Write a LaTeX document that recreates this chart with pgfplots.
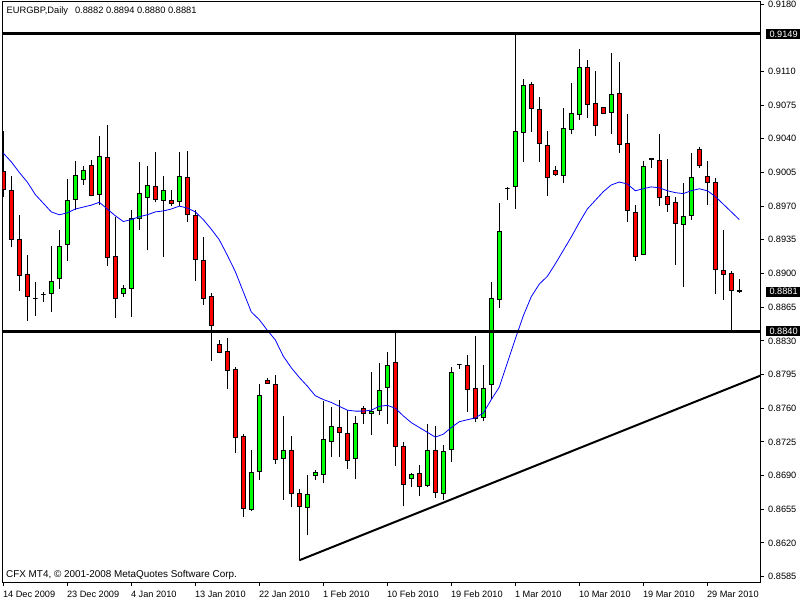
\documentclass[border=0pt]{standalone}
\usepackage{fontspec}
\setmainfont{Liberation Sans}
\usepackage{pgfplots}
\pgfplotsset{compat=1.18}
\usepackage{pgfplotstable}
\definecolor{cup}{RGB}{0,255,0}
\definecolor{cdown}{RGB}{255,0,0}
\definecolor{mablue}{RGB}{0,0,255}

\pgfplotstableread{
i o h l c
0 0.9006 0.9048 0.8979 0.8987
1 0.8986 0.9001 0.8927 0.8935
2 0.8935 0.8961 0.8882 0.8898
3 0.8899 0.8919 0.8851 0.8876
4 0.8874 0.8891 0.8856 0.8874
5 0.8878 0.8881 0.8870 0.8878
6 0.8879 0.8929 0.8860 0.8892
7 0.8895 0.8945 0.8884 0.8928
8 0.8930 0.8998 0.8913 0.8976
9 0.8977 0.9017 0.8966 0.9002
10 0.8998 0.9012 0.8992 0.9007
11 0.9012 0.9018 0.8980 0.8981
12 0.8982 0.9043 0.8971 0.9022
13 0.9021 0.9054 0.8908 0.8917
14 0.8918 0.8959 0.8854 0.8874
15 0.8879 0.8888 0.8876 0.8884
16 0.8884 0.8966 0.8855 0.8957
17 0.8957 0.9016 0.8945 0.8983
18 0.8979 0.9012 0.8924 0.8991
19 0.8990 0.9026 0.8974 0.8977
20 0.8976 0.9001 0.8917 0.8986
21 0.8976 0.8987 0.8970 0.8973
22 0.8975 0.9026 0.8970 0.9001
23 0.9000 0.9027 0.8954 0.8961
24 0.8960 0.8966 0.8892 0.8915
25 0.8914 0.8938 0.8867 0.8874
26 0.8876 0.8880 0.8809 0.8846
27 0.8826 0.8831 0.8817 0.8818
28 0.8819 0.8833 0.8780 0.8799
29 0.8800 0.8803 0.8713 0.8730
30 0.8731 0.8733 0.8647 0.8656
31 0.8655 0.8717 0.8653 0.8693
32 0.8694 0.8785 0.8685 0.8773
33 0.8789 0.8791 0.8785 0.8786
34 0.8785 0.8795 0.8702 0.8707
35 0.8708 0.8752 0.8665 0.8716
36 0.8716 0.8731 0.8657 0.8671
37 0.8671 0.8676 0.8602 0.8658
38 0.8657 0.8691 0.8628 0.8670
39 0.8690 0.8696 0.8685 0.8693
40 0.8691 0.8768 0.8682 0.8727
41 0.8725 0.8761 0.8709 0.8741
42 0.8740 0.8769 0.8709 0.8735
43 0.8734 0.8758 0.8697 0.8706
44 0.8708 0.8752 0.8686 0.8744
45 0.8760 0.8762 0.8744 0.8755
46 0.8754 0.8798 0.8732 0.8757
47 0.8758 0.8807 0.8753 0.8778
48 0.8782 0.8818 0.8744 0.8804
49 0.8807 0.8839 0.8700 0.8720
50 0.8720 0.8725 0.8658 0.8681
51 0.8687 0.8693 0.8678 0.8691
52 0.8692 0.8701 0.8669 0.8679
53 0.8680 0.8744 0.8678 0.8716
54 0.8716 0.8742 0.8667 0.8672
55 0.8671 0.8722 0.8665 0.8715
56 0.8717 0.8803 0.8704 0.8797
57 0.8805 0.8806 0.8801 0.8805
58 0.8804 0.8815 0.8756 0.8779
59 0.8780 0.8835 0.8746 0.8749
60 0.8750 0.8805 0.8747 0.8780
61 0.8785 0.8891 0.8770 0.8874
62 0.8873 0.8973 0.8864 0.8944
63 0.8988 0.8990 0.8976 0.8988
64 0.8990 0.9149 0.8967 0.9048
65 0.9046 0.9102 0.9016 0.9095
66 0.9096 0.9099 0.9047 0.9071
67 0.9070 0.9083 0.9016 0.9035
68 0.9033 0.9048 0.8980 0.9000
69 0.9007 0.9012 0.9001 0.9003
70 0.9002 0.9072 0.8994 0.9051
71 0.9050 0.9098 0.9045 0.9066
72 0.9065 0.9133 0.9059 0.9114
73 0.9114 0.9122 0.9062 0.9076
74 0.9077 0.9110 0.9043 0.9054
75 0.9072 0.9073 0.9066 0.9066
76 0.9067 0.9129 0.9045 0.9086
77 0.9087 0.9120 0.9025 0.9034
78 0.9035 0.9066 0.8953 0.8965
79 0.8963 0.8971 0.8913 0.8918
80 0.8920 0.9017 0.8919 0.9011
81 0.9019 0.9020 0.9010 0.9018
82 0.9017 0.9045 0.8970 0.8979
83 0.8980 0.9019 0.8964 0.8972
84 0.8974 0.8979 0.8909 0.8952
85 0.8951 0.8994 0.8886 0.8959
86 0.8960 0.9025 0.8956 0.9000
87 0.9029 0.9031 0.9010 0.9012
88 0.9001 0.9017 0.8971 0.8995
89 0.8995 0.8999 0.8879 0.8904
90 0.8903 0.8945 0.8872 0.8899
91 0.8900 0.8903 0.8840 0.8882
92 0.8882 0.8894 0.8880 0.8881
}\ohlc

\pgfplotstableread{
i m
0 0.9025
1 0.9016
2 0.9005
3 0.8995
4 0.8982
5 0.8973
6 0.8964
7 0.8961
8 0.8963
9 0.8967
10 0.8969
11 0.8971
12 0.8974
13 0.8967
14 0.8960
15 0.8954
16 0.8956
17 0.8959
18 0.8961
19 0.8964
20 0.8965
21 0.8967
22 0.8970
23 0.8968
24 0.8964
25 0.8956
26 0.8946
27 0.8935
28 0.8919
29 0.8902
30 0.8881
31 0.8860
32 0.8852
33 0.8841
34 0.8831
35 0.8814
36 0.8802
37 0.8792
38 0.8783
39 0.8773
40 0.8769
41 0.8766
42 0.8762
43 0.8758
44 0.8757
45 0.8757
46 0.8758
47 0.8762
48 0.8763
49 0.8760
50 0.8752
51 0.8745
52 0.8740
53 0.8735
54 0.8730
55 0.8733
56 0.8740
57 0.8746
58 0.8748
59 0.8750
60 0.8755
61 0.8769
62 0.8782
63 0.8807
64 0.8832
65 0.8856
66 0.8876
67 0.8889
68 0.8897
69 0.8910
70 0.8924
71 0.8938
72 0.8953
73 0.8967
74 0.8976
75 0.8985
76 0.8992
77 0.8995
78 0.8993
79 0.8986
80 0.8988
81 0.8990
82 0.8989
83 0.8986
84 0.8984
85 0.8983
86 0.8986
87 0.8988
88 0.8986
89 0.8980
90 0.8972
91 0.8964
92 0.8956
}\ma

\pgfplotstablegetrowsof{\ohlc}
\pgfmathtruncatemacro\lastrow{\pgfplotsretval-1}

\begin{document}
\fontsize{9pt}{11pt}\selectfont
\begin{tikzpicture}
\begin{axis}[
  at={(2.5pt,17.3pt)}, anchor=south west,
  scale only axis, width=758.2pt, height=580.7pt,
  xmin=-0.1, xmax=94.675, ymin=0.85787, ymax=0.91821,
  axis line style={line width=1pt, black},
  xtick={0,8,...,88},
  xticklabels={14 Dec 2009,23 Dec 2009,4 Jan 2010,13 Jan 2010,22 Jan 2010,1 Feb 2010,10 Feb 2010,19 Feb 2010,1 Mar 2010,10 Mar 2010,19 Mar 2010,29 Mar 2010},
  ytick={0.9180,0.9110,0.9075,0.9040,0.9005,0.8970,0.8935,0.8900,0.8865,0.8830,0.8795,0.8760,0.8725,0.8690,0.8655,0.8620,0.8585},
  scaled y ticks=false,
  xtick pos=left, ytick pos=right, yticklabel pos=right,
  tick align=outside, major tick length=3pt,
  tick style={black, line width=1pt},
  tick label style={font=\fontsize{9.2pt}{11pt}\selectfont},
  yticklabel style={/pgf/number format/fixed, /pgf/number format/fixed zerofill, /pgf/number format/precision=4, /pgf/number format/assume math mode=true, anchor=west, inner sep=0pt, xshift=4.3pt},
  xticklabel style={anchor=north west, inner sep=0pt, xshift=-0.5pt, yshift=-5pt},
  extra y ticks={0.9149,0.8881,0.8840},
  extra y tick style={major tick length=0pt, yticklabel style={fill=black, text=white, inner xsep=4pt, inner ysep=1.5pt, xshift=0.3pt}},
]
\pgfplotsforeachungrouped \rowidx in {0,...,\lastrow}{%
  \pgfplotstablegetelem{\rowidx}{i}\of\ohlc \let\vi\pgfplotsretval
  \pgfplotstablegetelem{\rowidx}{o}\of\ohlc \let\vo\pgfplotsretval
  \pgfplotstablegetelem{\rowidx}{h}\of\ohlc \let\vh\pgfplotsretval
  \pgfplotstablegetelem{\rowidx}{l}\of\ohlc \let\vl\pgfplotsretval
  \pgfplotstablegetelem{\rowidx}{c}\of\ohlc \let\vc\pgfplotsretval
  \ifdim\vc pt<\vo pt
    \let\vlo\vc \let\vhi\vo \def\vcol{cdown}%
  \else
    \let\vlo\vo \let\vhi\vc \def\vcol{cup}%
  \fi
  \pgfmathsetmacro\xa{\vi-0.275}%
  \pgfmathsetmacro\xb{\vi+0.275}%
  \edef\temp{%
    \noexpand\addplot[black, line width=1pt] coordinates {(\vi,\vl) (\vi,\vh)};
    \noexpand\addplot[draw=black, fill=\vcol, line width=1pt] coordinates {(\xa,\vlo) (\xb,\vlo) (\xb,\vhi) (\xa,\vhi)} -- cycle;
  }%
  \temp
}
\addplot[mablue, line width=0.8pt] table[x=i, y=m] {\ma};
\addplot[black, line width=2.8pt] coordinates {(-0.1,0.9149) (94.675,0.9149)};
\addplot[black, line width=2.8pt] coordinates {(-0.1,0.8840) (94.675,0.8840)};
\addplot[black, line width=2pt] coordinates {(37,0.8602) (94.675,0.8794)};
\end{axis}
\node[anchor=west, inner sep=0pt, font=\fontsize{9.3pt}{11pt}\selectfont] at (6.5pt,589.3pt) {EURGBP,Daily\hspace{7pt}0.8882 0.8894 0.8880 0.8881};
\node[anchor=west, inner sep=0pt, font=\fontsize{9.9pt}{12pt}\selectfont] at (6pt,25pt) {CFX MT4, © 2001-2008 MetaQuotes Software Corp.};
\pgfresetboundingbox
\path[use as bounding box] (0,0) rectangle (800pt,600pt);
\end{tikzpicture}
\end{document}
